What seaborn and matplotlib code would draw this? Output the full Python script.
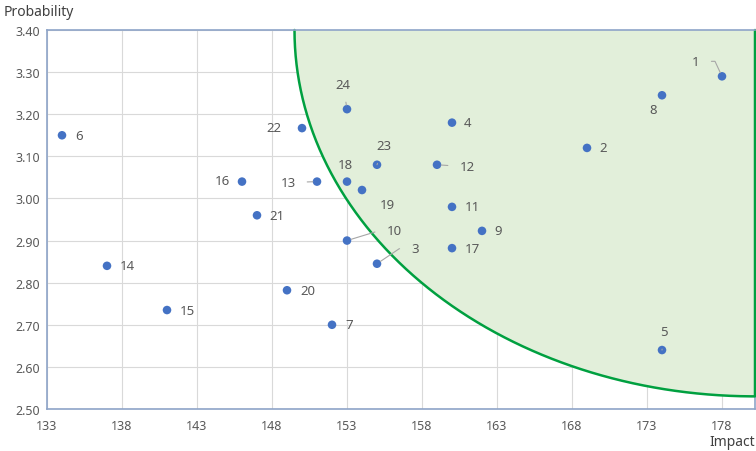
import numpy as np
import pandas as pd
import seaborn as sns
import matplotlib.pyplot as plt

# risk data
risk_ids = [str(i) for i in range(1, 25)]
impact = [178, 169, 155, 160, 174, 134, 152, 174, 162, 153, 160, 159,
          151, 137, 141, 146, 160, 153, 154, 149, 147, 150, 155, 153]
probability = [3.29, 3.12, 2.845, 3.18, 2.64, 3.15, 2.70, 3.245, 2.923, 2.90, 2.98, 3.08,
               3.04, 2.84, 2.735, 3.04, 2.882, 3.04, 3.02, 2.782, 2.96, 3.167, 3.08, 3.212]

x_ticks = [133, 138, 143, 148, 153, 158, 163, 168, 173, 178]
y_ticks = [2.50, 2.60, 2.70, 2.80, 2.90, 3.00, 3.10, 3.20, 3.30, 3.40]

# label offsets in pixels (dx, dy) and leader style (None = no leader line)
label_offsets = {
    '1': (-26, 15, 'angle,angleA=0,angleB=115,rad=0'), '2': (16, 0, None),
    '3': (38, 15, 'angle,angleA=0,angleB=34,rad=0'), '4': (16, 0, None),
    '5': (2, 19, 'arc3'), '6': (17, 0, None), '7': (17, 0, None), '8': (-9, -14, None),
    '9': (16, 0, None), '10': (47, 10, 'angle,angleA=0,angleB=17,rad=0'),
    '11': (20, 0, None), '12': (30, -2, 'arc3'),
    '13': (-29, -1, 'arc3'), '14': (20, 0, None), '15': (20, 0, None), '16': (-20, 1, None),
    '17': (20, 0, None), '18': (-2, 17, None), '19': (25, -14, None), '20': (21, 0, None),
    '21': (20, 0, None), '22': (-28, 1, None), '23': (7, 19, 'arc3'), '24': (-4, 25, 'arc3'),
}

df = pd.DataFrame({'Impact': impact, 'Probability': probability, 'Risk': risk_ids})

sns.set_style('white')
plt.rcParams['font.family'] = ['Noto Sans', 'DejaVu Sans']

fig = plt.figure(figsize=(7.56, 4.52), dpi=100)
ax = fig.add_axes([47 / 756, 1 - 410 / 452, 708 / 756, 379 / 452])

x_min, x_max = 133, 180.2
y_min, y_max = 2.50, 3.40

# high-risk zone: quarter ellipse anchored at the top-right corner
a, b = x_max - 149.5, y_max - 2.53
t = np.linspace(0, np.pi / 2, 200)
arc_x = x_max - a * np.cos(t)
arc_y = y_max - b * np.sin(t)
ax.fill(np.r_[arc_x, x_max], np.r_[arc_y, y_max], color='#E2EFDA', zorder=1, lw=0)
ax.plot(np.r_[arc_x, x_max], np.r_[arc_y, y_max], color='#00A040', lw=1.8,
        zorder=3, clip_on=False)

sns.scatterplot(data=df, x='Impact', y='Probability', color='#4472C4', s=38,
                edgecolor='none', zorder=5, ax=ax, legend=False)

for rid, x, y in zip(risk_ids, impact, probability):
    dx, dy, leader = label_offsets[rid]
    props = None
    if leader:
        props = dict(arrowstyle='-', color='#A6A6A6', lw=0.8, shrinkA=6, shrinkB=3,
                     connectionstyle=leader)
    ax.annotate(rid, (x, y), xytext=(dx, dy), textcoords='offset pixels',
                ha='center', va='center', fontsize=9.5, color='#595959',
                arrowprops=props, zorder=6)

ax.set_xlim(x_min, x_max)
ax.set_ylim(y_min, y_max)
ax.set_xticks(x_ticks)
ax.set_yticks(y_ticks)
ax.set_yticklabels([f'{v:.2f}' for v in y_ticks])
ax.grid(True, color='#D9D9D9', lw=0.8, zorder=0)
ax.set_axisbelow(True)
ax.tick_params(labelsize=9, colors='#595959', length=0, pad=5)
ax.tick_params(axis='x', length=4, color='#8EA4C8', direction='out', pad=3)

for side in ['top', 'left', 'bottom', 'right']:
    ax.spines[side].set_color('#8EA4C8')
    ax.spines[side].set_linewidth(1.2)
ax.spines['top'].set_zorder(4)

ax.set_xlabel('')
ax.set_ylabel('')
fig.text(4 / 756, 1 - 12 / 452, 'Probability', fontsize=10, color='#404040', va='center')
fig.text(755 / 756, 1 - 443 / 452, 'Impact', fontsize=10, color='#404040', va='center',
         ha='right')

fig.savefig('out.png', dpi=100)
